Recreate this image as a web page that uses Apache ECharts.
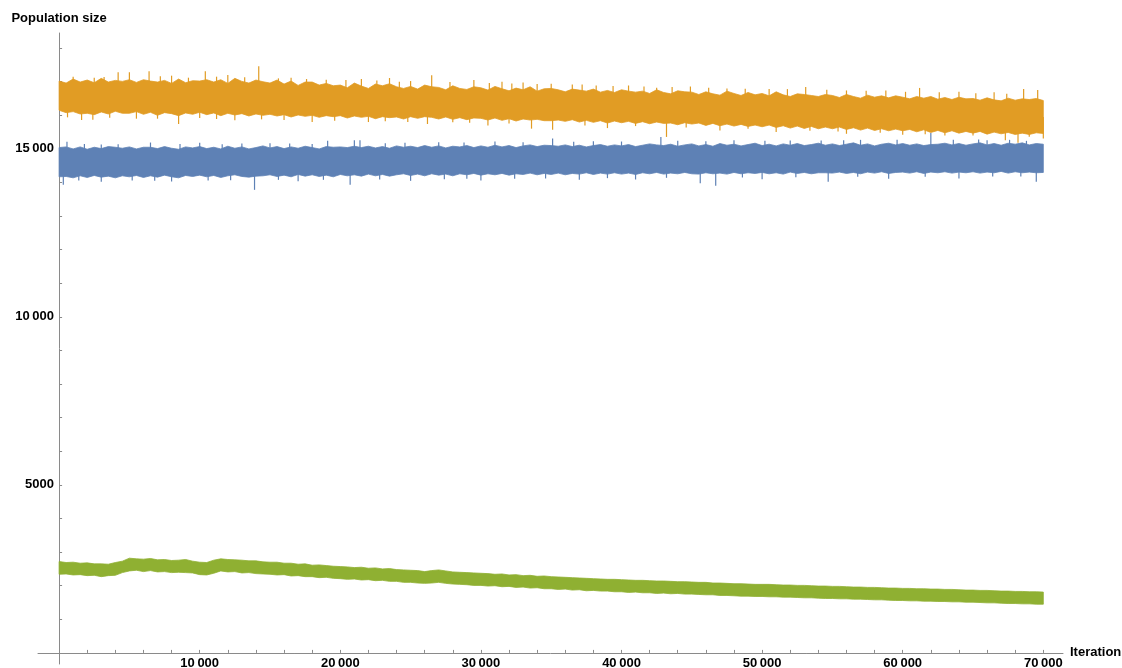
<!DOCTYPE html>
<html>
<head>
<meta charset="utf-8">
<script src="https://cdn.jsdelivr.net/npm/echarts@6/dist/echarts.min.js"></script>
<style>
html,body{margin:0;padding:0;background:#fff;}
#chart{width:1122px;height:668px;}
</style>
</head>
<body>
<div id="chart"></div>
<script>
// sample spacing (iterations) of the envelope readings below
const ITER_STEP = 500;

// Orange population: upper / lower edge of the dense part of the noisy band
const orangeHigh = [
17020,16960,17080,16990,17050,16970,17100,16990,17040,17010,
17060,16980,17060,17020,16990,17040,16950,17080,16970,17030,
17020,17060,16990,17060,16950,17100,17010,16960,17050,17000,
16960,17050,16930,17020,16890,16990,16990,16900,16950,16880,
16900,16820,16960,16870,16800,16930,16880,16940,16850,16800,
16860,16780,16900,16850,16830,16760,16880,16800,16770,16850,
16820,16750,16860,16790,16730,16810,16760,16850,16720,16790,
16800,16760,16700,16780,16750,16720,16780,16690,16740,16680,
16760,16720,16690,16720,16650,16760,16680,16640,16730,16700,
16690,16620,16700,16640,16600,16720,16650,16590,16680,16610,
16650,16580,16700,16610,16560,16640,16620,16590,16560,16620,
16590,16530,16620,16560,16510,16600,16540,16580,16520,16580,
16540,16490,16560,16510,16560,16480,16530,16470,16540,16490,
16500,16450,16520,16460,16430,16510,16450,16490,16470,16500,16440
];
const orangeLow = [
16150,16080,16110,16040,16060,16020,16100,16040,16120,16060,
16060,16110,16030,16090,16000,16080,16050,15990,16070,16030,
16090,16020,16070,15990,16060,16010,16050,15980,16040,16000,
16030,15980,16020,15950,16010,15970,16000,15940,15990,15960,
15990,15920,15980,15940,15970,15900,15960,15930,15950,15890,
15960,15910,15960,15940,15890,15950,15880,15930,15870,15920,
15910,15860,15920,15850,15900,15830,15890,15860,15880,15840,
15840,15860,15820,15870,15800,15850,15790,15840,15770,15830,
15780,15820,15760,15810,15750,15800,15760,15770,15720,15780,
15740,15770,15700,15760,15690,15740,15680,15730,15670,15710,
15660,15710,15640,15690,15620,15680,15610,15670,15600,15650,
15600,15650,15580,15630,15560,15620,15550,15600,15540,15590,
15540,15580,15510,15570,15490,15550,15480,15540,15470,15520,
15470,15520,15440,15500,15450,15490,15430,15470,15430,15480,15460
];
// isolated excursions of the orange trace: [iteration, value]
const orangeSpikesUp = [
[1000,17150],[2500,17120],[3200,17140],[4200,17280],[5000,17280],[6400,17310],[7200,17160],[8000,17180],
[9200,17120],[10400,17310],[11200,17150],[12000,17200],[13200,17130],[14200,17458],[15600,17100],
[16500,17120],[17600,17080],[19000,17060],[20400,17050],[21500,17080],[22600,17040],[23500,17110],
[24200,17000],[25000,17020],[26500,17190],[27800,16990],[29500,17050],[30600,16960],[31500,17000],
[32200,16950],[33000,16980],[34000,16930],[35000,16938],[36500,16917],[37200,16917],[38200,16890],
[39400,16870],[40500,16888],[41600,16860],[42500,16820],[43600,16840],[44900,16857],[46200,16820],
[47500,16800],[48800,16790],[50500,16780],[51800,16780],[53100,16840],[54600,16760],[56000,16740],
[57400,16730],[58800,16740],[60200,16700],[61200,16815],[62600,16690],[64000,16700],[65200,16660],
[66500,16690],[67400,16640],[68600,16785],[69600,16750]
];
const orangeSpikesDown = [
[600,15940],[1600,15861],[2400,15870],[3600,15930],[5500,15900],[7000,15900],[8500,15742],[10000,15920],
[11200,15890],[12500,15850],[14400,15880],[16000,15860],[18000,15800],[19600,15840],[22000,15800],
[23200,15820],[24800,15800],[26200,15742],[28000,15790],[29200,15780],[30500,15700],[32000,15760],
[33600,15603],[35100,15574],[37400,15700],[39000,15620],[41000,15680],[43200,15357],[44600,15640],
[47000,15550],[49000,15600],[51000,15500],[53400,15540],[55400,15520],[56000,15450],[58400,15480],
[60000,15420],[61600,15440],[63000,15400],[65000,15400],[67300,15258],[68200,15180],[69000,15360],
[70000,15307]
];

// Blue population
const blueHigh = [
15040,15060,15000,15060,14990,15050,15010,15070,15050,15020,
15060,15000,15050,15050,15010,15070,15020,14990,15060,15030,
15070,15010,15050,15000,15080,15020,15060,15000,15040,15090,
15030,15070,15010,15060,15020,15080,15040,15000,15070,15050,
15060,15040,15080,15040,15080,15030,15070,15020,15090,15050,
15080,15040,15100,15050,15090,15030,15080,15060,15100,15040,
15090,15050,15110,15060,15100,15040,15090,15120,15070,15110,
15100,15080,15120,15070,15110,15060,15100,15130,15080,15120,
15090,15130,15070,15110,15150,15120,15100,15140,15080,15120,
15150,15090,15130,15080,15160,15110,15140,15090,15130,15170,
15100,15140,15090,15150,15110,15160,15100,15130,15170,15110,
15150,15100,15140,15180,15110,15150,15090,15140,15170,15120,
15160,15110,15150,15100,15130,15140,15170,15120,15160,15110,
15150,15180,15120,15160,15110,15170,15140,15180,15120,15160,15140
];
const blueLow = [
14170,14180,14140,14200,14150,14210,14160,14190,14140,14200,
14170,14210,14150,14200,14160,14220,14170,14140,14210,14180,
14220,14170,14210,14150,14200,14230,14180,14160,14190,14200,
14230,14180,14220,14170,14240,14190,14230,14180,14220,14170,
14240,14200,14230,14190,14250,14200,14240,14190,14230,14260,
14210,14250,14200,14260,14220,14250,14200,14260,14230,14270,
14220,14260,14230,14270,14220,14260,14240,14280,14230,14270,
14240,14280,14230,14270,14250,14290,14240,14280,14250,14290,
14250,14280,14240,14290,14260,14300,14250,14280,14260,14300,
14260,14250,14290,14260,14280,14250,14300,14260,14290,14270,
14300,14260,14290,14250,14310,14270,14300,14260,14290,14290,
14280,14310,14270,14300,14260,14310,14280,14320,14270,14300,
14310,14280,14320,14270,14310,14290,14320,14280,14310,14290,
14320,14280,14310,14290,14330,14280,14320,14290,14310,14290,14300
];
const blueSpikesUp = [
[560,15210],[1800,15150],[3000,15130],[4200,15141],[6500,15190],[8600,15150],[10000,15180],[11600,15140],
[13000,15160],[15000,15170],[16400,15160],[18000,15150],[19100,15240],[21000,15260],[21400,15260],
[23200,15170],[24600,15180],[27000,15200],[28800,15190],[31000,15220],[33000,15200],[35100,15308],
[36600,15210],[38000,15230],[40000,15220],[42800,15358],[44000,15240],[46000,15230],[48000,15260],
[50200,15240],[52000,15250],[54200,15250],[55800,15260],[57000,15270],[59600,15270],[62000,15476],
[63600,15270],[65400,15280],[66000,15260],[67600,15270],[68800,15240]
];
const blueSpikesDown = [
[300,13937],[1400,14060],[3000,14020],[5200,14060],[6800,14050],[8000,14030],[10600,14060],[12200,14070],
[13900,13782],[15600,14080],[17000,14040],[18800,14080],[20700,13937],[22800,14090],[25000,14050],
[27400,14100],[29000,14110],[30000,14060],[32400,14110],[34600,14120],[37000,14080],[39000,14130],
[41000,14090],[43200,14140],[45600,13980],[46700,13907],[48600,14150],[50000,14100],[52400,14160],
[54700,14026],[56800,14170],[59000,14110],[61600,14170],[64000,14120],[66400,14180],[68400,14180],
[69500,14026]
];

// Green population
const greenHigh = [
2720,2690,2700,2670,2680,2650,2650,2640,2690,2730,
2820,2800,2790,2810,2770,2780,2750,2760,2780,2730,
2700,2690,2760,2800,2780,2770,2760,2740,2740,2710,
2700,2700,2670,2670,2640,2650,2610,2620,2600,2580,
2570,2560,2540,2550,2520,2530,2500,2510,2480,2470,
2460,2450,2420,2450,2470,2440,2410,2400,2390,2380,
2370,2360,2340,2350,2320,2330,2300,2310,2280,2290,
2270,2260,2250,2240,2230,2220,2210,2200,2190,2190,
2180,2170,2160,2160,2150,2140,2140,2130,2120,2120,
2110,2100,2100,2080,2080,2070,2060,2060,2050,2040,
2040,2040,2030,2020,2020,2010,2010,2000,1990,1990,
1980,1980,1970,1960,1960,1950,1950,1940,1930,1930,
1920,1920,1910,1910,1900,1900,1890,1890,1880,1870,
1870,1860,1860,1850,1840,1840,1830,1830,1820,1820,1810
];
const greenLow = [
2340,2350,2320,2330,2300,2310,2270,2300,2310,2390,
2440,2460,2420,2450,2410,2420,2390,2400,2390,2380,
2330,2320,2370,2440,2410,2420,2380,2390,2360,2350,
2340,2320,2330,2290,2300,2270,2270,2240,2250,2220,
2210,2190,2200,2170,2180,2150,2160,2130,2130,2100,
2100,2080,2070,2080,2100,2070,2050,2040,2030,2010,
2010,1990,2000,1970,1980,1950,1960,1930,1940,1910,
1910,1890,1900,1870,1880,1850,1860,1840,1840,1820,
1820,1800,1810,1790,1790,1770,1780,1760,1770,1750,
1750,1740,1730,1730,1710,1710,1700,1690,1690,1680,
1680,1670,1670,1660,1660,1650,1640,1640,1630,1620,
1620,1610,1610,1600,1600,1590,1580,1580,1570,1560,
1560,1550,1550,1540,1540,1530,1530,1520,1520,1510,
1510,1500,1490,1490,1480,1470,1470,1460,1460,1450,1450
];

// axis ticks and labels
const xLabelValues = [10000,20000,30000,40000,50000,60000,70000];
const xTickValues = [2000,4000,6000,8000,10000,12000,14000,16000,18000,20000,22000,24000,26000,28000,30000,32000,34000,36000,38000,40000,42000,44000,46000,48000,50000,52000,54000,56000,58000,60000,62000,64000,66000,68000,70000];
const yLabelValues = [5000,10000,15000];
const yTickValues = [1000,2000,3000,4000,5000,6000,7000,8000,9000,10000,11000,12000,13000,14000,15000,16000,17000,18000];

function fmt(v){
  const s = String(v);
  return s.length > 4 ? s.slice(0, s.length-3) + '\u2009' + s.slice(-3) : s;
}

// a noisy trace drawn as the filled region between its lower and upper edge
function band(name, color, low, high){
  const data = low.map((v,i)=>[i*ITER_STEP, v, high[i]]);
  return {
    name: name, type: 'custom', silent: true, clip: true,
    encode: {x: 0, y: [1, 2]},
    data: data,
    renderItem: function(params, api){
      if (params.dataIndex !== 0) return null;
      const top = [], bottom = [];
      for (let i = 0; i < data.length; i++) {
        top.push(api.coord([data[i][0], data[i][2]]));
        bottom.push(api.coord([data[i][0], data[i][1]]));
      }
      return {
        type: 'polygon',
        shape: {points: top.concat(bottom.reverse())},
        style: {fill: color, stroke: color, lineWidth: 0.8}
      };
    }
  };
}

// thin excursions of the trace beyond the dense band
function spikes(name, color, pts, low, high){
  return {
    name: name, type: 'custom', silent: true, clip: true,
    encode: {x: 0, y: 1},
    data: pts,
    renderItem: function(params, api){
      const x = api.value(0), v = api.value(1);
      const k = Math.min(low.length - 1, Math.round(x / ITER_STEP));
      const mid = (low[k] + high[k]) / 2;
      const a = api.coord([x, mid]), b = api.coord([x, v]);
      return {
        type: 'line',
        shape: {x1: a[0], y1: a[1], x2: b[0], y2: b[1]},
        style: {stroke: color, lineWidth: 1.2}
      };
    }
  };
}

const BLUE = '#5e81b5', ORANGE = '#e19c24', GREEN = '#8fb032';
const axisColor = '#8a8a8a';
const FONT = 'Liberation Sans, Arial, sans-serif';
const chart = echarts.init(document.getElementById('chart'), null, {renderer: 'canvas'});
chart.setOption({
  animation: false,
  backgroundColor: '#ffffff',
  grid: {left: 38, right: 59, top: 33, bottom: 4, containLabel: false, outerBoundsMode: 'none'},
  xAxis: {
    type: 'value', min: -1500, max: 71400,
    name: 'Iteration', nameLocation: 'end', nameGap: 7,
    nameTextStyle: {fontFamily: FONT, fontWeight: 'bold', fontSize: 13, color: '#000', verticalAlign: 'middle'},
    axisLine: {show: true, onZero: true, lineStyle: {color: axisColor, width: 1}},
    axisTick: {show: true, inside: true, length: 3, customValues: xTickValues, lineStyle: {color: axisColor}},
    axisLabel: {customValues: xLabelValues, formatter: fmt, margin: -7, fontFamily: FONT, fontWeight: 'bold', fontSize: 13, color: '#000'},
    splitLine: {show: false}
  },
  yAxis: {
    type: 'value', min: -330, max: 18450,
    name: 'Population size', nameLocation: 'end', nameGap: 8,
    nameTextStyle: {fontFamily: FONT, fontWeight: 'bold', fontSize: 13, color: '#000', align: 'center'},
    axisLine: {show: true, onZero: true, lineStyle: {color: axisColor, width: 1}},
    axisTick: {show: true, inside: true, length: 3, customValues: yTickValues, lineStyle: {color: axisColor}},
    axisLabel: {customValues: yLabelValues, formatter: fmt, margin: -16, fontFamily: FONT, fontWeight: 'bold', fontSize: 13, color: '#000'},
    splitLine: {show: false}
  },
  series: [
    spikes('Population 1 excursions up', BLUE, blueSpikesUp, blueLow, blueHigh),
    spikes('Population 1 excursions down', BLUE, blueSpikesDown, blueLow, blueHigh),
    band('Population 1', BLUE, blueLow, blueHigh),
    spikes('Population 2 excursions up', ORANGE, orangeSpikesUp, orangeLow, orangeHigh),
    spikes('Population 2 excursions down', ORANGE, orangeSpikesDown, orangeLow, orangeHigh),
    band('Population 2', ORANGE, orangeLow, orangeHigh),
    band('Population 3', GREEN, greenLow, greenHigh)
  ]
});
</script>
</body>
</html>
